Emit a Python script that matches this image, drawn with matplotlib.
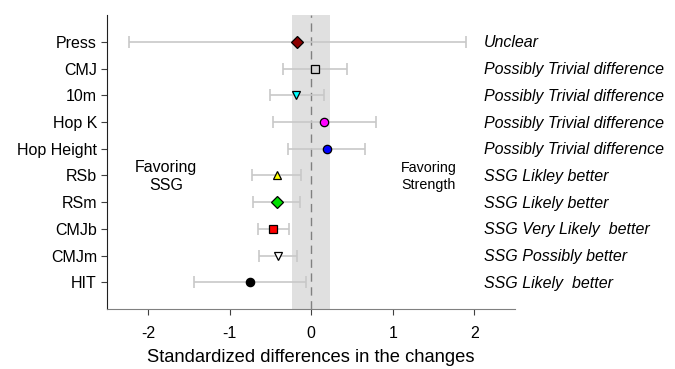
import numpy as np
import matplotlib
matplotlib.use("Agg")
import matplotlib.pyplot as plt

plt.rcParams['font.family'] = ['Liberation Sans', 'DejaVu Sans']

# ---------- data ----------
labels = ["Press", "CMJ", "10m", "Hop K", "Hop Height",
          "RSb", "RSm", "CMJb", "CMJm", "HIT"]
effect = [-0.17, 0.05, -0.18, 0.16, 0.19, -0.42, -0.42, -0.47, -0.41, -0.75]
ci_low = [-2.24, -0.34, -0.51, -0.47, -0.28, -0.72, -0.71, -0.65, -0.64, -1.44]
ci_high = [1.90, 0.44, 0.16, 0.79, 0.66, -0.12, -0.14, -0.27, -0.17, -0.06]
verdicts = ["Unclear",
            "Possibly Trivial difference",
            "Possibly Trivial difference",
            "Possibly Trivial difference",
            "Possibly Trivial difference",
            "SSG Likley better",
            "SSG Likely better",
            "SSG Very Likely  better",
            "SSG Possibly better",
            "SSG Likely  better"]
markers = ["D", "s", "v", "o", "o", "^", "D", "s", "v", "o"]
colors = ["#8b0000", "#d3d3d3", "cyan", "magenta", "blue",
          "yellow", "#00e000", "red", "white", "black"]
trivial = 0.23

# ---------- plot ----------
fig = plt.figure(figsize=(6.75, 3.69), dpi=100)
ax = fig.add_axes([0.159, 0.1626, 0.604, 0.7964])

n = len(labels)
ypos = np.arange(n, 0, -1)

ax.axvspan(-trivial, trivial, color="#e0e0e0", zorder=0, lw=0)
ax.axvline(0, color="#808080", ls=(0, (6, 4)), lw=1, zorder=1)

marker_size = {"D": 6, "s": 5.2, "v": 6, "^": 6, "o": 6}

for i in range(n):
    y = ypos[i]
    ax.errorbar(effect[i], y,
                xerr=[[effect[i] - ci_low[i]], [ci_high[i] - effect[i]]],
                fmt="none", ecolor="#c8c8c8", elinewidth=1.2, capsize=4,
                capthick=1.2, zorder=2)
    ax.plot(effect[i], y, marker=markers[i], ms=marker_size[markers[i]],
            mfc=colors[i], mec="black", mew=0.9, ls="none", zorder=3)
    ax.text(2.12, y - 0.04, verdicts[i], fontsize=11.5, style="italic",
            ha="left", va="center", clip_on=False)

ax.set_xlim(-2.5, 2.5)
ax.set_ylim(0, n + 1)
ax.set_xticks([-2, -1, 0, 1, 2])
ax.set_xticklabels(["-2", "-1", "0", "1", "2"])
ax.set_yticks(ypos)
ax.set_yticklabels(labels)
ax.tick_params(axis="both", labelsize=11.5, direction="out", length=4,
               color="#404040")
ax.tick_params(axis="x", pad=8)
ax.set_xlabel("Standardized differences in the changes", fontsize=13.2,
              labelpad=6)

ax.spines["top"].set_visible(False)
ax.spines["right"].set_visible(False)
ax.spines["left"].set_color("#202020")
ax.spines["bottom"].set_color("#808080")

ax.text(-1.78, 4.95, "Favoring\nSSG", fontsize=11.5, ha="center",
        va="center", linespacing=1.25)
ax.text(1.44, 4.95, "Favoring\nStrength", fontsize=10.3, ha="center",
        va="center", linespacing=1.3)

fig.savefig("out.png", dpi=100)
